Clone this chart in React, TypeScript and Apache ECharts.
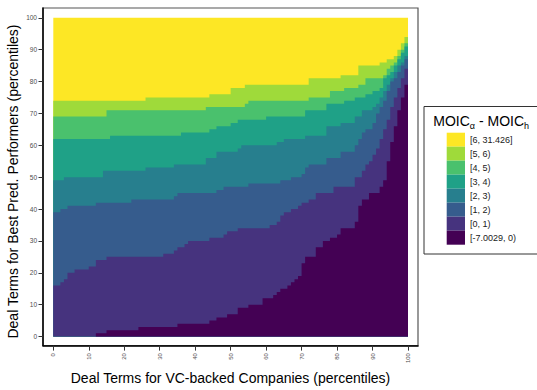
import React, { useEffect, useRef } from "react";
import * as echarts from "echarts";

const FONT = "'Liberation Sans', Arial, Helvetica, sans-serif";

// Bins of MOIC_a - MOIC_h, from lowest to highest
const levelLabels = ["[-7.0029, 0)", "[0, 1)", "[1, 2)", "[2, 3)", "[3, 4)", "[4, 5)", "[5, 6)", "[6, 31.426]"];
const levelColors = ["#440154", "#46337E", "#365C8D", "#277F8E", "#1FA187", "#4AC16D", "#9FDA3A", "#FDE725"];

const xTicks = [0, 10, 20, 30, 40, 50, 60, 70, 80, 90, 100];
const yTicks = [0, 10, 20, 30, 40, 50, 60, 70, 80, 90, 100];

const xTitle = "Deal Terms for VC-backed Companies (percentiles)";
const yTitle = "Deal Terms for Best Pred. Performers (percentiles)";

// Upper edge of each bin's region: [x percentile where the step starts, y percentile]
const edgeBin0 = [[0, 0], [12, 1], [15, 2], [24, 3], [35, 4], [44, 5], [46, 6], [49, 7], [52, 9], [55, 10], [59, 12], [62, 13], [63, 14], [64, 15], [66, 16], [67, 17], [68, 18], [69, 19], [70, 23], [71, 25], [74, 28], [76, 30], [78, 31], [80, 32], [81, 34], [85, 36], [86, 41], [87, 43], [89, 45], [92, 47], [93, 49], [94, 55], [95, 61], [96, 66], [97, 71], [98, 75], [99, 79]];
const edgeBin1 = [[0, 16], [2, 17], [3, 18], [4, 20], [6, 21], [10, 22], [12, 24], [15, 25], [31, 26], [34, 27], [35, 28], [37, 29], [38, 30], [44, 31], [48, 32], [49, 33], [52, 34], [61, 35], [63, 36], [64, 38], [65, 39], [67, 40], [69, 41], [70, 42], [72, 43], [74, 45], [79, 47], [85, 50], [87, 52], [88, 54], [89, 55], [90, 57], [91, 59], [92, 62], [93, 65], [94, 68], [95, 72], [96, 75], [97, 78], [98, 81], [99, 84]];
const edgeBin2 = [[0, 39], [2, 40], [4, 41], [12, 42], [22, 43], [34, 44], [35, 45], [46, 46], [48, 47], [55, 48], [64, 49], [67, 50], [70, 51], [71, 53], [72, 54], [77, 56], [81, 58], [85, 60], [86, 62], [87, 64], [88, 65], [90, 67], [91, 70], [92, 72], [93, 74], [94, 77], [95, 80], [96, 81], [97, 83], [98, 85], [99, 87]];
const edgeBin3 = [[0, 49], [3, 50], [14, 52], [26, 53], [34, 54], [43, 56], [46, 58], [52, 59], [53, 60], [63, 61], [65, 62], [71, 63], [77, 66], [81, 67], [85, 69], [87, 71], [90, 72], [91, 73], [92, 75], [93, 77], [94, 79], [95, 81], [96, 83], [97, 85], [98, 86], [99, 88]];
const edgeBin4 = [[0, 62], [16, 63], [36, 64], [44, 65], [46, 66], [50, 67], [52, 68], [60, 69], [71, 71], [77, 73], [82, 74], [85, 75], [88, 76], [90, 77], [92, 78], [93, 81], [94, 82], [95, 83], [96, 85], [97, 87], [98, 89], [99, 91]];
const edgeBin5 = [[0, 69], [15, 71], [43, 72], [54, 73], [55, 74], [72, 75], [78, 77], [82, 78], [86, 79], [88, 81], [93, 82], [94, 84], [95, 85], [96, 86], [97, 88], [98, 90], [99, 92]];
const edgeBin6 = [[0, 74], [26, 75], [44, 76], [50, 78], [54, 79], [72, 81], [81, 82], [86, 85], [92, 86], [94, 87], [96, 88], [97, 90], [98, 92], [99, 94]];
const edgeBin7 = [[0, 100]];

const edges = [edgeBin0, edgeBin1, edgeBin2, edgeBin3, edgeBin4, edgeBin5, edgeBin6, edgeBin7];
const X_END = 100;

function stepPoints(edge: number[][]): number[][] {
  const pts: number[][] = [];
  edge.forEach(([xs, y], i) => {
    const xe = i + 1 < edge.length ? edge[i + 1][0] : X_END;
    pts.push([xs, y], [xe, y]);
  });
  return pts;
}

export default function App() {
  const ref = useRef<HTMLDivElement>(null);

  useEffect(() => {
    if (!ref.current) return;
    const chart = echarts.init(ref.current, undefined, { renderer: "svg" });

    // draw from highest bin (full area) down to lowest, each from y=0 up to its edge
    const drawOrder = levelColors.map((_, k) => levelColors.length - 1 - k);

    const legendX = 446.7;
    const legendY = 132.7;
    const swW = 18.3;
    const swH = 14;
    const legendItems: any[] = [];
    drawOrder.forEach((k, i) => {
      legendItems.push({
        type: "rect",
        shape: { x: legendX, y: legendY + i * swH, width: swW, height: swH },
        style: { fill: levelColors[k] },
      });
      legendItems.push({
        type: "text",
        x: 470,
        y: legendY + i * swH + swH / 2,
        style: {
          text: levelLabels[k],
          fontSize: 9,
          fontFamily: FONT,
          fill: "#1a1a1a",
          verticalAlign: "middle",
          align: "left",
        },
      });
    });

    const option: any = {
      animation: false,
      backgroundColor: "#ffffff",
      grid: {
        left: 43,
        right: 119,
        top: 8,
        bottom: 36,
        show: true,
        borderColor: "#555",
        borderWidth: 1.2,
        backgroundColor: "#ffffff",
      },
      xAxis: {
        type: "value",
        min: -2.904,
        max: 102.82,
        axisLine: { show: true, onZero: false, lineStyle: { color: "#000", width: 1.5 } },
        axisTick: { show: true, length: 5, customValues: xTicks, lineStyle: { color: "#333", width: 1 } },
        axisLabel: {
          customValues: xTicks,
          rotate: 90,
          fontSize: 6,
          color: "#4d4d4d",
          margin: 7.5,
          fontFamily: FONT,
        },
        splitLine: { show: false },
        name: xTitle,
        nameLocation: "middle",
        nameGap: 21,
        nameTextStyle: { fontSize: 14, color: "#000", fontFamily: FONT, width: 500, overflow: "none" },
      },
      yAxis: {
        type: "value",
        min: -2.85,
        max: 103.06,
        axisLine: { show: true, onZero: false, lineStyle: { color: "#000", width: 1.5 } },
        axisTick: { show: true, length: 4.5, customValues: yTicks, lineStyle: { color: "#333", width: 1 } },
        axisLabel: {
          customValues: yTicks,
          fontSize: 6.5,
          color: "#4d4d4d",
          margin: 6,
          fontFamily: FONT,
        },
        splitLine: { show: false },
      },
      series: [
        {
          type: "custom",
          coordinateSystem: "cartesian2d",
          clip: false,
          silent: true,
          data: drawOrder.map((k) => [k, 0]),
          encode: { x: 0, y: 1 },
          renderItem: (params: any, api: any) => {
            const k = api.value(0);
            const pts = [[0, 0], ...stepPoints(edges[k]), [X_END, 0]].map((p) => api.coord(p));
            return {
              type: "polygon",
              shape: { points: pts },
              style: { fill: levelColors[k], stroke: null },
            };
          },
        },
      ],
      graphic: [
        {
          type: "text",
          x: 12.8,
          y: 181.5,
          rotation: Math.PI / 2,
          style: {
            text: yTitle,
            fontSize: 14,
            fontFamily: FONT,
            fill: "#000",
            align: "center",
            verticalAlign: "middle",
          },
        },
        {
          type: "rect",
          shape: { x: 424, y: 106.5, width: 130, height: 147.5 },
          style: { fill: "#fff", stroke: "#333", lineWidth: 1 },
        },
        {
          type: "text",
          x: 433.3,
          y: 114,
          style: {
            text: "{a|MOIC}{b|α}{a| - MOIC}{b|h}",
            fontFamily: FONT,
            fill: "#000",
            rich: {
              a: { fontSize: 14, fontFamily: FONT, fill: "#000", lineHeight: 16, verticalAlign: "top" },
              b: { fontSize: 9, fontFamily: FONT, fill: "#000", lineHeight: 16, verticalAlign: "bottom" },
            },
          },
        },
        ...legendItems,
      ],
    };

    chart.setOption(option);
    return () => chart.dispose();
  }, []);

  return (
    <div
      ref={ref}
      style={{ position: "fixed", left: 0, top: 0, width: 537, height: 390, background: "#fff" }}
    />
  );
}
